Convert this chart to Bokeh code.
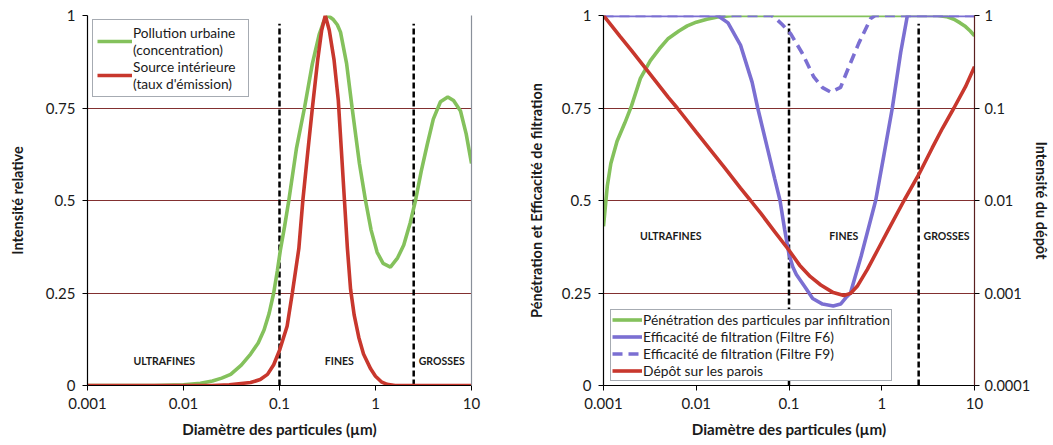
from bokeh.plotting import figure
from bokeh.models import FixedTicker, LogAxis, LinearAxis, Range1d, LogScale, Legend, LegendItem
from bokeh.layouts import row
from bokeh.core.properties import value
from bokeh.embed import file_html
from bokeh.resources import INLINE

# ---------------- data ----------------
x_ticks = [0.001, 0.01, 0.1, 1, 10]
x_tick_labels = ["0.001", "0.01", "0.1", "1", "10"]
y_ticks = [0, 0.25, 0.5, 0.75, 1]
y_tick_labels = ["0", "0.25", "0.5", "0.75", "1"]
dep_ticks = [0.0001, 0.001, 0.01, 0.1, 1]
dep_tick_labels = ["0.0001", "0.001", "0.01", "0.1", "1"]

size_bounds = [0.1, 2.5]
regions = ["ULTRAFINES", "FINES", "GROSSES"]
left_region_x = [0.0063, 0.42, 4.9]
left_region_y = [0.065, 0.065, 0.065]
right_region_x = [0.0053, 0.39, 5.0]
right_region_y = [0.403, 0.403, 0.403]

# left chart: pollution urbaine (concentration)
urb_x = [0.001, 0.005, 0.01, 0.015, 0.02, 0.025, 0.031, 0.04, 0.05, 0.06, 0.069, 0.078,
         0.087, 0.095, 0.102, 0.113, 0.125, 0.15, 0.182, 0.22, 0.26, 0.29, 0.32, 0.36,
         0.4, 0.432, 0.5, 0.571, 0.68, 0.787, 0.9, 1.04, 1.2, 1.43, 1.7, 1.97, 2.3,
         2.61, 3.0, 3.45, 4.0, 4.75, 5.66, 6.5, 7.68, 8.8, 10]
urb_y = [0.0, 0.0, 0.002, 0.006, 0.012, 0.02, 0.03, 0.055, 0.085, 0.115, 0.15, 0.195,
         0.25, 0.31, 0.365, 0.43, 0.5, 0.64, 0.75, 0.87, 0.95, 0.985, 1.0, 0.99,
         0.975, 0.955, 0.87, 0.75, 0.6, 0.5, 0.42, 0.36, 0.33, 0.32, 0.345, 0.38, 0.44,
         0.5, 0.58, 0.65, 0.72, 0.767, 0.78, 0.77, 0.742, 0.68, 0.60]

# left chart: source intérieure (taux d'émission)
src_x = [0.001, 0.02, 0.03, 0.05, 0.063, 0.075, 0.087, 0.1, 0.12, 0.136, 0.159, 0.175,
         0.195, 0.22, 0.25, 0.275, 0.3, 0.33, 0.37, 0.41, 0.44, 0.475, 0.51, 0.55, 0.6,
         0.67, 0.75, 0.89, 1.0, 1.15, 1.32, 1.6, 10]
src_y = [0.0, 0.0, 0.002, 0.008, 0.016, 0.03, 0.056, 0.095, 0.16, 0.25, 0.37, 0.5,
         0.62, 0.75, 0.88, 0.96, 1.0, 0.96, 0.88, 0.77, 0.64, 0.5, 0.37, 0.26, 0.19,
         0.13, 0.085, 0.045, 0.025, 0.01, 0.003, 0.0, 0.0]

# right chart: pénétration des particules par infiltration
pen_x = [0.001, 0.0011, 0.0012, 0.0014, 0.0017, 0.002, 0.0025, 0.0032, 0.004, 0.005,
         0.0065, 0.008, 0.01, 0.013, 0.017, 0.025, 1.0, 4.0, 5.0, 6.0, 7.0, 8.0, 9.0, 10]
pen_y = [0.43, 0.54, 0.6, 0.66, 0.71, 0.755, 0.83, 0.878, 0.91, 0.938,
         0.958, 0.972, 0.982, 0.99, 0.996, 1.0, 1.0, 1.0, 0.997, 0.99, 0.98, 0.97, 0.958, 0.945]

# right chart: efficacité de filtration (filtre F6)
f6_x = [0.001, 0.017, 0.022, 0.03, 0.04, 0.046, 0.06, 0.07, 0.08, 0.09, 0.1, 0.11, 0.12,
        0.15, 0.18, 0.23, 0.3, 0.36, 0.42, 0.46, 0.6, 0.86, 1.05, 1.3, 1.6, 1.89, 10]
f6_y = [1.0, 1.0, 0.98, 0.92, 0.82, 0.75, 0.63, 0.56, 0.5, 0.42, 0.355, 0.32, 0.3,
        0.265, 0.235, 0.22, 0.215, 0.22, 0.24, 0.25, 0.35, 0.5, 0.62, 0.75, 0.9, 1.0, 1.0]

# right chart: efficacité de filtration (filtre F9)
f9_x = [0.001, 0.065, 0.072, 0.085, 0.104, 0.139, 0.185, 0.23, 0.281, 0.36, 0.44,
        0.563, 0.76, 0.85, 10]
f9_y = [1.0, 1.0, 0.992, 0.975, 0.951, 0.898, 0.834, 0.805, 0.793, 0.806, 0.86,
        0.924, 0.992, 1.0, 1.0]

# right chart: dépôt sur les parois (log scale, right axis)
dep_x = [0.001, 0.0015, 0.002, 0.003, 0.005, 0.00624, 0.01, 0.015, 0.02, 0.03, 0.0385,
         0.05, 0.07, 0.1, 0.13, 0.17, 0.22, 0.3, 0.39, 0.46, 0.55, 0.7, 0.9, 1.2, 1.74,
         2.5, 3.5, 4.5, 6.0, 8.0, 10]
dep_y = [1.0, 0.6, 0.42, 0.25, 0.13, 0.1, 0.055, 0.033, 0.023, 0.0136, 0.01,
         0.0072, 0.0046, 0.0029, 0.002, 0.0015, 0.00122, 0.00101, 0.00094, 0.00099,
         0.0012, 0.0018, 0.0029, 0.005, 0.01, 0.019, 0.037, 0.06, 0.1, 0.17, 0.28]

# ---------------- style ----------------
FONT = "Lato"
GREEN = "#84c15c"
RED = "#c8372d"
PURPLE = "#7b6fd2"
GRID = "#823030"
TXT = "#1a1a1a"
H = 440


def style_axis(ax, ticks, labels, title_standoff):
    ax.ticker = FixedTicker(ticks=ticks, minor_ticks=[])
    ax.major_label_overrides = dict(zip(ticks, labels))
    ax.major_label_text_font = FONT
    ax.major_label_text_font_size = "15px"
    ax.major_label_text_color = TXT
    ax.major_label_standoff = 7
    ax.axis_line_color = "black"
    ax.axis_line_width = 1.2
    ax.major_tick_line_color = "black"
    ax.major_tick_out = 5
    ax.major_tick_in = 0
    ax.minor_tick_line_color = None
    ax.axis_label_text_font = FONT
    ax.axis_label_text_font_style = "bold"
    ax.axis_label_text_font_size = "14.5px"
    ax.axis_label_text_color = TXT
    ax.axis_label_standoff = title_standoff


def base_fig(width, mb_left, mb_right, mb_top, mb_bottom):
    p = figure(width=width, height=H, x_axis_type="log", x_range=Range1d(0.001, 10),
               y_range=Range1d(0, 1), output_backend="svg", toolbar_location=None,
               min_border_left=mb_left, min_border_right=mb_right,
               min_border_top=mb_top, min_border_bottom=mb_bottom)
    p.outline_line_color = None
    p.background_fill_color = "white"
    p.border_fill_color = "white"
    p.xgrid.visible = False
    p.ygrid.grid_line_color = GRID
    p.ygrid.grid_line_width = 1.1
    style_axis(p.xaxis[0], x_ticks, x_tick_labels, 8)
    p.xaxis.axis_label = "Diamètre des particules (µm)"
    p.xaxis.axis_label_text_font_size = "15.2px"
    return p


def bounds_and_labels(p, rx, ry):
    p.segment(x0=size_bounds, y0=[0] * len(size_bounds), x1=size_bounds,
              y1=[0.978] * len(size_bounds), line_color="black", line_width=2.5,
              line_dash="6 3")
    p.text(x=rx, y=ry, text=regions, text_font=value(FONT), text_font_style="bold",
           text_font_size="10.5px", text_color=TXT, text_align="center",
           text_baseline="middle")


def legend_style(lg):
    lg.label_text_font = FONT
    lg.label_text_color = TXT
    lg.border_line_color = "#4d5866"
    lg.border_line_width = 1
    lg.background_fill_color = "white"
    lg.background_fill_alpha = 1
    lg.margin = 0
    lg.spacing = 0
    lg.label_standoff = 1


# ---------------- left chart ----------------
p1 = base_fig(520, 87, 49, 13, H - 386)
style_axis(p1.yaxis[0], y_ticks, y_tick_labels, 17)
p1.yaxis.axis_label = "Intensité relative"
edge = LinearAxis(ticker=FixedTicker(ticks=[]), axis_line_color="#8a909a",
                  axis_line_width=1.2, major_tick_line_color=None,
                  minor_tick_line_color=None, major_label_text_font_size="0px")
p1.add_layout(edge, "right")
bounds_and_labels(p1, left_region_x, left_region_y)
r_urb = p1.line(urb_x, urb_y, line_color=GREEN, line_width=3.6)
r_src = p1.line(src_x, src_y, line_color=RED, line_width=3.6)
lg1 = Legend(items=[LegendItem(label="Pollution urbaine\n(concentration)", renderers=[r_urb]),
                    LegendItem(label="Source intérieure\n(taux d'émission)", renderers=[r_src])],
             location=(5, 288))
legend_style(lg1)
lg1.label_text_font_size = "13.7px"
lg1.label_text_line_height = 1.25
lg1.glyph_width = 35
lg1.glyph_height = 18
lg1.label_height = 18
lg1.label_width = 111
lg1.padding = 4
p1.add_layout(lg1)

# ---------------- right chart ----------------
p2 = base_fig(533, 83, 79, 15, H - 387)
style_axis(p2.yaxis[0], y_ticks, y_tick_labels, 14)
p2.yaxis.axis_label = "Pénétration et Efficacité de filtration"
p2.extra_y_ranges = {"dep": Range1d(0.0001, 1)}
p2.extra_y_scales = {"dep": LogScale()}
rax = LogAxis(y_range_name="dep")
style_axis(rax, dep_ticks, dep_tick_labels, 0)
rax.major_label_standoff = 5
rax.major_label_text_font_size = "14.6px"
rax.axis_label = "Intensité du dépôt"
rax.axis_line_color = "#5a2020"
p2.add_layout(rax, "right")
bounds_and_labels(p2, right_region_x, right_region_y)
r_pen = p2.line(pen_x, pen_y, line_color=GREEN, line_width=3.6)
r_f6 = p2.line(f6_x, f6_y, line_color=PURPLE, line_width=3.6)
r_f9 = p2.line(f9_x, f9_y, line_color=PURPLE, line_width=3.6, line_dash="10 6")
r_dep = p2.line(dep_x, dep_y, line_color=RED, line_width=3.6, y_range_name="dep")
lg2 = Legend(items=[LegendItem(label="Pénétration des particules par infiltration", renderers=[r_pen]),
                    LegendItem(label="Efficacité de filtration (Filtre F6)", renderers=[r_f6]),
                    LegendItem(label="Efficacité de filtration (Filtre F9)", renderers=[r_f9]),
                    LegendItem(label="Dépôt sur les parois", renderers=[r_dep])],
             location=(7, 4))
legend_style(lg2)
lg2.label_text_font_size = "13.8px"
lg2.label_text_line_height = 1.0
lg2.glyph_width = 30
lg2.glyph_height = 17
lg2.label_height = 17
lg2.padding = 1
p2.add_layout(lg2)

layout = row(p1, p2)
open("out.html", "w").write(file_html(layout, INLINE))
